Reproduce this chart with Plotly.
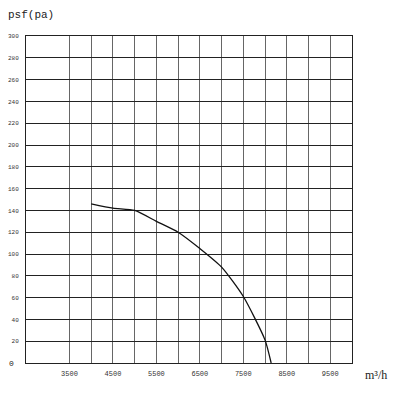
import plotly.graph_objects as go

# fan curve: airflow (m3/h) vs static pressure (pa)
flow = [4000, 4500, 5000, 5500, 6000, 6500, 7000, 7500, 8000, 8140]
pressure = [146, 142, 140, 130, 120, 105, 88, 61, 21, 0]

x_grid = list(range(3500, 10001, 500))
x_labels = [str(v) if v % 1000 == 500 and v < 10000 else '' for v in x_grid]
y_grid = list(range(0, 301, 20))
y_labels = ['' if v == 0 else str(v) for v in y_grid]

mono = 'Liberation Mono'

fig = go.Figure()

fig.add_trace(
    go.Scatter(
        x=flow,
        y=pressure,
        mode='lines',
        line=dict(color='#111111', width=1.3, shape='spline', smoothing=0.6),
        showlegend=False,
        hoverinfo='skip'
    )
)

# page body has an 8px margin, so margins are shifted to compensate
fig.update_layout(
    width=400,
    height=400,
    margin=dict(l=18, r=56, t=28, b=45),
    plot_bgcolor='white',
    paper_bgcolor='white',
    xaxis=dict(
        range=[2500, 10000],
        tickvals=x_grid,
        ticktext=x_labels,
        showgrid=True,
        gridcolor='#666666',
        gridwidth=1,
        showline=True,
        linecolor='#222222',
        linewidth=1,
        mirror=True,
        ticks='',
        ticklabelstandoff=4,
        tickfont=dict(family=mono, size=7, color='#333333'),
        zeroline=False,
        automargin=False,
    ),
    yaxis=dict(
        range=[0, 300],
        tickvals=y_grid,
        ticktext=y_labels,
        showgrid=True,
        gridcolor='#222222',
        gridwidth=1,
        showline=True,
        linecolor='#222222',
        linewidth=1,
        mirror=True,
        ticks='',
        ticklabelstandoff=5,
        tickfont=dict(family=mono, size=6, color='#333333'),
        zeroline=False,
        automargin=False,
    ),
    annotations=[
        dict(text='psf(pa)', xref='paper', yref='paper', x=-0.06, y=1.04,
             xanchor='left', yanchor='bottom', showarrow=False,
             font=dict(family=mono, size=11, color='#222222')),
        dict(text='m³/h', xref='paper', yref='paper', x=1.035, y=-0.01,
             xanchor='left', yanchor='top', showarrow=False,
             font=dict(family='Liberation Serif', size=12, color='#222222')),
        dict(text='0', xref='paper', yref='y', x=-0.03, y=0,
             xanchor='right', yanchor='middle', showarrow=False,
             font=dict(family=mono, size=8, color='#222222')),
    ],
)

fig.write_html('out.html')
